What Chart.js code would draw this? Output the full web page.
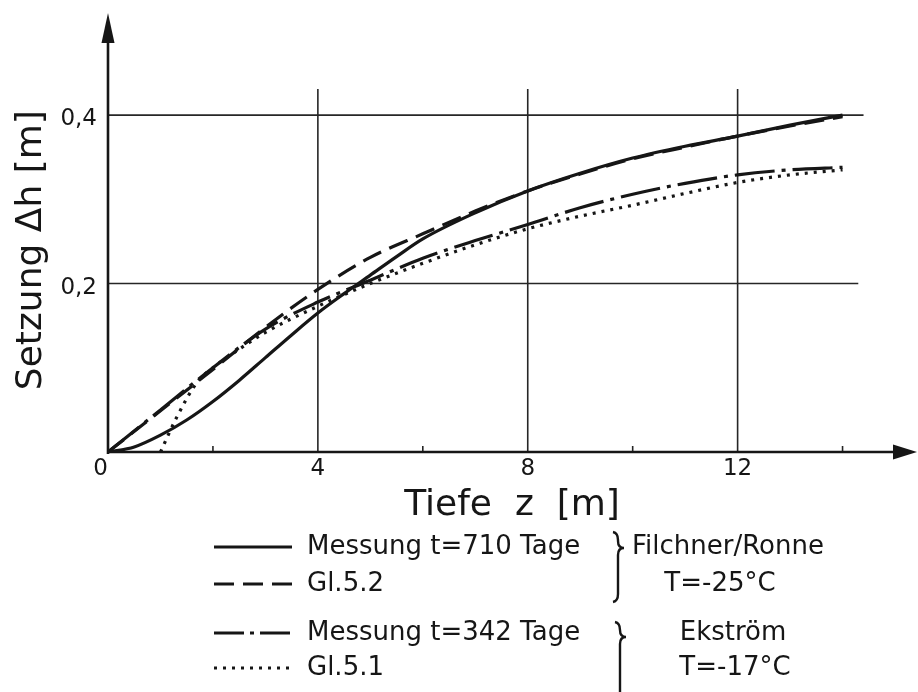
<!DOCTYPE html>
<html>
<head>
<meta charset="utf-8">
<script src="https://cdn.jsdelivr.net/npm/chart.js@4.4.1/dist/chart.umd.min.js"></script>
<style>
  html, body { margin: 0; padding: 0; background: #fff; }
  #wrap { width: 918px; height: 692px; position: relative; }
</style>
</head>
<body>
<div id="wrap"><canvas id="setzungChart"></canvas></div>
<script>
// values: depth z [m] and settlement dh [m]
const z710 = [0, 0.5, 1, 1.5, 2, 2.5, 3, 3.5, 4, 4.5, 5, 5.5, 6, 7, 8, 9, 10, 11, 12, 13, 14];
const dh710 = [0, 0.006, 0.02, 0.038, 0.06, 0.085, 0.112, 0.139, 0.165, 0.188, 0.21, 0.232, 0.253, 0.284, 0.31, 0.331, 0.349, 0.363, 0.375, 0.388, 0.4];

const zGl52 = [0, 1, 2, 3, 4, 5, 6, 7, 8, 9, 10, 11, 12, 13, 14];
const dhGl52 = [0, 0.049, 0.098, 0.148, 0.193, 0.231, 0.259, 0.286, 0.31, 0.33, 0.348, 0.362, 0.375, 0.387, 0.398];

const z342 = [0, 1, 2, 3, 4, 5, 6, 7, 8, 9, 10, 11, 12, 13, 14];
const dh342 = [0, 0.05, 0.1, 0.146, 0.178, 0.204, 0.23, 0.251, 0.27, 0.29, 0.306, 0.319, 0.329, 0.335, 0.338];

const zGl51 = [1, 1.3, 1.7, 2, 2.5, 3, 4, 5, 6, 7, 8, 9, 10, 11, 12, 13, 14];
const dhGl51 = [0, 0.04, 0.083, 0.1, 0.122, 0.142, 0.173, 0.2, 0.224, 0.246, 0.265, 0.28, 0.293, 0.307, 0.32, 0.329, 0.335];

const xTicks = [0, 4, 8, 12];
const yTicks = [0.2, 0.4];
const xMinorTicks = [2, 6, 10, 14];

const legendLabels = ['Messung t=710 Tage', 'Gl.5.2', 'Messung t=342 Tage', 'Gl.5.1'];
const siteLabels = ['Filchner/Ronne', 'T=-25°C', 'Ekström', 'T=-17°C'];

const ink = '#161616';
const fontFamily = "'DejaVu Sans', 'Liberation Sans', sans-serif";
Chart.defaults.font.family = fontFamily;
Chart.defaults.color = ink;

function toPoints(xs, ys) {
  return xs.map((v, i) => ({ x: v, y: ys[i] }));
}

function brace(ctx, x, top, tip, bottom) {
  ctx.beginPath();
  ctx.moveTo(x - 5, top);
  ctx.quadraticCurveTo(x, top + 1, x, top + 8);
  ctx.lineTo(x, tip - 7);
  ctx.quadraticCurveTo(x, tip, x + 6, tip);
  ctx.quadraticCurveTo(x, tip, x, tip + 7);
  ctx.lineTo(x, bottom - 8);
  ctx.quadraticCurveTo(x, bottom - 1, x - 5, bottom);
  ctx.stroke();
}

// keep the plot area where the figure has it (no extra label padding)
function noScalePadding(scale) {
  scale.paddingTop = 0;
  scale.paddingBottom = 0;
  scale.paddingLeft = 0;
  scale.paddingRight = 0;
}

// grid, axes with arrows and the bracketed legend under the plot
const paperPlugin = {
  id: 'paper',
  beforeDatasetsDraw(chart) {
    const { ctx, scales: { x, y } } = chart;
    const x0 = x.getPixelForValue(0);
    const y0 = y.getPixelForValue(0);
    ctx.save();
    ctx.strokeStyle = '#262626';
    ctx.lineWidth = 1.6;
    xTicks.slice(1).forEach(v => {
      const px = x.getPixelForValue(v);
      ctx.beginPath();
      ctx.moveTo(px, y0);
      ctx.lineTo(px, y.getPixelForValue(0.431));
      ctx.stroke();
    });
    yTicks.forEach((v, i) => {
      const py = y.getPixelForValue(v);
      ctx.beginPath();
      ctx.moveTo(x0, py);
      ctx.lineTo(x.getPixelForValue(i === 0 ? 14.3 : 14.4), py);
      ctx.stroke();
    });
    xMinorTicks.forEach(v => {
      const px = x.getPixelForValue(v);
      ctx.beginPath();
      ctx.moveTo(px, y0);
      ctx.lineTo(px, y0 - 6);
      ctx.stroke();
    });
    ctx.restore();
  },
  afterDraw(chart) {
    const { ctx, chartArea, scales: { x, y } } = chart;
    const x0 = x.getPixelForValue(0);
    const y0 = y.getPixelForValue(0);
    ctx.save();
    ctx.strokeStyle = ink;
    ctx.fillStyle = ink;
    ctx.lineWidth = 2.6;

    // y axis with arrow
    const yTip = chartArea.top - 1;
    ctx.beginPath();
    ctx.moveTo(x0, y0 + 2);
    ctx.lineTo(x0, yTip + 20);
    ctx.stroke();
    ctx.beginPath();
    ctx.moveTo(x0, yTip);
    ctx.lineTo(x0 - 6.5, yTip + 30);
    ctx.lineTo(x0 + 6.5, yTip + 30);
    ctx.closePath();
    ctx.fill();

    // x axis with arrow
    const xTip = chartArea.right + 1;
    ctx.beginPath();
    ctx.moveTo(x0 - 1, y0);
    ctx.lineTo(xTip - 18, y0);
    ctx.stroke();
    ctx.beginPath();
    ctx.moveTo(xTip, y0);
    ctx.lineTo(xTip - 24, y0 - 7.5);
    ctx.lineTo(xTip - 24, y0 + 7.5);
    ctx.closePath();
    ctx.fill();

    // legend
    const rows = [547, 584, 633, 668];
    const legendDash = [[], [20, 9], [30, 6, 4, 6], [3, 6]];
    ctx.font = '26px ' + fontFamily;
    ctx.textBaseline = 'middle';
    chart.data.datasets.forEach((ds, i) => {
      ctx.save();
      ctx.lineWidth = ds.borderWidth;
      ctx.setLineDash(legendDash[i]);
      ctx.beginPath();
      ctx.moveTo(214, rows[i]);
      ctx.lineTo(292, rows[i]);
      ctx.stroke();
      ctx.restore();
      ctx.textAlign = 'left';
      ctx.fillText(ds.label, 307, rows[i]);
    });

    ctx.textAlign = 'left';
    ctx.fillText(siteLabels[0], 632, rows[0]);
    ctx.textAlign = 'center';
    ctx.fillText(siteLabels[1], 720, rows[1]);
    ctx.fillText(siteLabels[2], 733, rows[2]);
    ctx.fillText(siteLabels[3], 735, rows[3]);

    ctx.lineWidth = 2.4;
    brace(ctx, 618, 532, 548, 602);
    brace(ctx, 620, 622, 637, 702);
    ctx.restore();
  }
};

const ctx = document.getElementById('setzungChart').getContext('2d');
new Chart(ctx, {
  type: 'line',
  data: {
    datasets: [{
      label: legendLabels[0],
      data: toPoints(z710, dh710),
      borderColor: ink,
      borderWidth: 3.2,
      borderDash: []
    },
    {
      label: legendLabels[1],
      data: toPoints(zGl52, dhGl52),
      borderColor: ink,
      borderWidth: 3.2,
      borderDash: [20, 9]
    },
    {
      label: legendLabels[2],
      data: toPoints(z342, dh342),
      borderColor: ink,
      borderWidth: 3.2,
      borderDash: [40, 7, 4, 7]
    },
    {
      label: legendLabels[3],
      data: toPoints(zGl51, dhGl51),
      borderColor: ink,
      borderWidth: 3.2,
      borderDash: [3, 6]
    }]
  },
  options: {
    responsive: true,
    maintainAspectRatio: false,
    animation: false,
    layout: {
      padding: { top: 14, right: 2, left: 0, bottom: 0 }
    },
    elements: {
      point: { radius: 0 },
      line: { cubicInterpolationMode: 'monotone', fill: false }
    },
    plugins: {
      legend: { display: false },
      tooltip: { enabled: false }
    },
    scales: {
      x: {
        type: 'linear',
        min: 0,
        max: 15.4,
        border: { display: false },
        grid: { display: false, drawTicks: false },
        afterBuildTicks: scale => { scale.ticks = xTicks.map(v => ({ value: v })); },
        afterFit: scale => { scale.height = 240; noScalePadding(scale); },
        ticks: {
          autoSkip: false,
          maxRotation: 0,
          padding: 3,
          font: { size: 23 },
          callback: v => v === 0 ? '0  ' : String(v)
        },
        title: {
          display: true,
          text: 'Tiefe  z  [m]',
          font: { size: 36 },
          padding: { top: 0, bottom: 165 }
        }
      },
      y: {
        min: 0,
        max: 0.52,
        border: { display: false },
        grid: { display: false, drawTicks: false },
        afterBuildTicks: scale => { scale.ticks = yTicks.map(v => ({ value: v })); },
        afterFit: scale => { scale.width = 108; noScalePadding(scale); },
        ticks: {
          padding: 11,
          labelOffset: 4,
          font: { size: 23 },
          callback: v => v.toFixed(1).replace('.', ',')
        },
        title: {
          display: true,
          text: 'Setzung Δh [m]   ',
          font: { size: 36 },
          padding: { top: 10, bottom: 0 }
        }
      }
    }
  },
  plugins: [paperPlugin]
});
</script>
</body>
</html>
